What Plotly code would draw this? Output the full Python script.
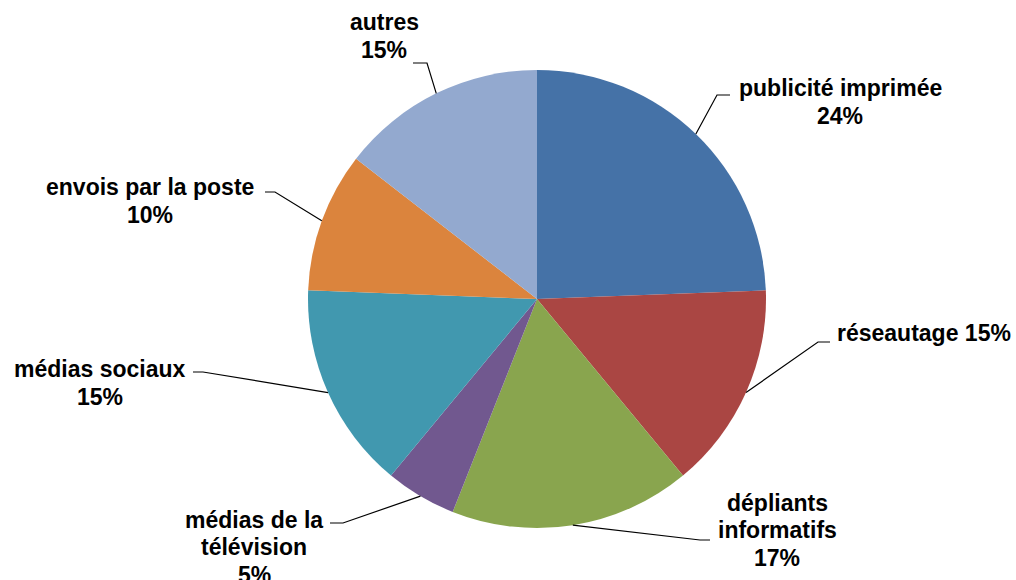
import math
import plotly.graph_objects as go

# ---- data ----
categories = ["publicité imprimée", "réseautage", "dépliants informatifs",
              "médias de la télévision", "médias sociaux", "envois par la poste", "autres"]
values = [24.4, 14.6, 17.0, 5.0, 14.6, 9.9, 14.5]
percent_labels = ["24%", "15%", "17%", "5%", "15%", "10%", "15%"]
label_lines = [["publicité imprimée", "24%"], ["réseautage 15%"], ["dépliants", "informatifs", "17%"],
               ["médias de la", "télévision", "5%"], ["médias sociaux", "15%"],
               ["envois par la poste", "10%"], ["autres", "15%"]]
colors = ["#4572A7", "#AA4643", "#89A54E", "#71588F", "#4198AF", "#DB843D", "#93A9CF"]

# ---- layout (pixels) ----
W, H = 1016, 580
CX, CY, R = 537, 299, 229
LINE_H = 27.5
label_pos = [(840, 102), (924, 333), (777, 530), (254, 547), (100, 383), (150, 201), (384, 36)]
elbow_pos = [(717, 95), (818, 342), (700, 540), (343, 523), (203, 372), (275, 192), (427, 63)]
end_pos = [(730, 95), (830, 342), (710, 540), (330, 523), (193, 372), (265, 192), (413, 63)]

def px(x, y):
    return x / W, 1 - y / H

fig = go.Figure(go.Pie(
    labels=categories, values=values, sort=False, direction="clockwise", rotation=0,
    marker=dict(colors=colors, line=dict(color="white", width=0)),
    textinfo="none", hoverinfo="label+percent", showlegend=False,
    domain=dict(x=[(CX - R) / W, (CX + R) / W], y=[1 - (CY + R) / H, 1 - (CY - R) / H]),
))

total = sum(values)
cum = 0
shapes = []
annotations = []
for i, v in enumerate(values):
    mid = (cum + v / 2) / total * 2 * math.pi
    cum += v
    sx, sy = CX + R * math.sin(mid), CY - R * math.cos(mid)
    p0 = px(sx, sy); p1 = px(*elbow_pos[i]); p2 = px(*end_pos[i])
    shapes.append(dict(type="path", xref="paper", yref="paper",
                       path=f"M {p0[0]},{p0[1]} L {p1[0]},{p1[1]} L {p2[0]},{p2[1]}",
                       line=dict(color="black", width=1.2)))
    lines = label_lines[i]
    cx, cy = label_pos[i]
    n = len(lines)
    for k, t in enumerate(lines):
        yy = cy + (k - (n - 1) / 2) * LINE_H
        lx, ly = px(cx, yy)
        annotations.append(dict(x=lx, y=ly, xref="paper", yref="paper", text="<b>" + t + "</b>",
                                showarrow=False, xanchor="center", yanchor="middle",
                                font=dict(family="Liberation Sans, Arial", size=23, color="black")))

fig.update_layout(width=W, height=H, margin=dict(l=0, r=0, t=0, b=0),
                  paper_bgcolor="white", plot_bgcolor="white",
                  shapes=shapes, annotations=annotations)
fig.write_html("out.html", config={"displayModeBar": False},
               post_script="document.body.style.margin='0px';")
